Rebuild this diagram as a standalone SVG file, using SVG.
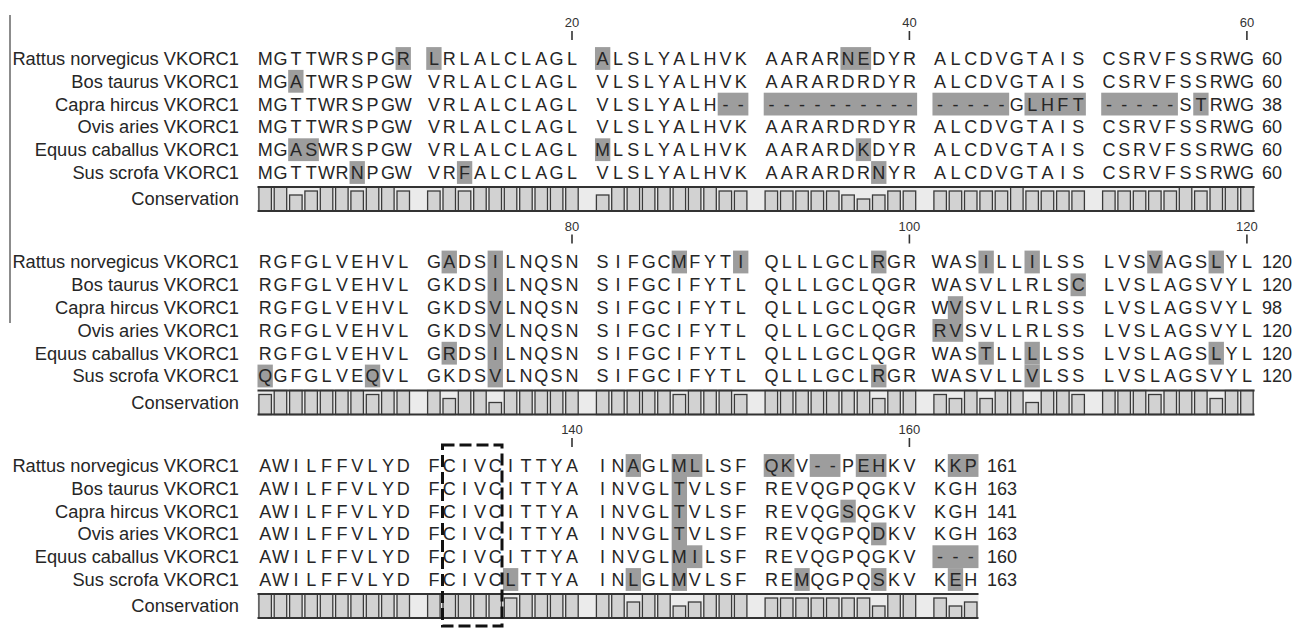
<svg xmlns="http://www.w3.org/2000/svg" width="1298" height="628" viewBox="0 0 1298 628">
<style>
text{font-family:"Liberation Sans",Arial,sans-serif;fill:#262626}
.lab{font-size:18.3px;text-anchor:end}
.seq{font-size:18px;text-anchor:middle}
.num{font-size:18px}
.pos{font-size:13px;text-anchor:middle;fill:#333}
.tick{stroke:#333;stroke-width:1.6}
.hl{fill:#9d9d9d}
.bar{fill:#d2d2d2;stroke:#3a3a3a;stroke-width:1.3}
.strip{fill:#ebebeb}
.sline{stroke:#333;stroke-width:2}
</style>
<defs>
<rect id="c6" class="bar" y="187" width="12.5" height="24"/>
<rect id="c5" class="bar" y="191" width="12.5" height="20"/>
<rect id="c4" class="bar" y="195" width="12.5" height="16"/>
<rect id="c3" class="bar" y="199" width="12.5" height="12"/>
</defs>
<rect width="1298" height="628" fill="#fff"/>
<line x1="10" y1="15" x2="10" y2="323" stroke="#666" stroke-width="1.5"/>

<g id="block1">
<g id="ticks1">
<text class="pos" x="572" y="27">20</text><line class="tick" x1="572" y1="31" x2="572" y2="40"/>
<text class="pos" x="909.4" y="27">40</text><line class="tick" x1="909.4" y1="31" x2="909.4" y2="40"/>
<text class="pos" x="1246.9" y="27">60</text><line class="tick" x1="1246.9" y1="31" x2="1246.9" y2="40"/>
</g>
<g id="labels1">
<text class="lab" x="239" y="64.9">Rattus norvegicus VKORC1</text>
<text class="lab" x="239" y="87.7">Bos taurus VKORC1</text>
<text class="lab" x="239" y="110.5">Capra hircus VKORC1</text>
<text class="lab" x="239" y="133.3">Ovis aries VKORC1</text>
<text class="lab" x="239" y="156.1">Equus caballus VKORC1</text>
<text class="lab" x="239" y="178.9">Sus scrofa VKORC1</text>
<text class="lab" x="239" y="205.4">Conservation</text>
</g>
<g id="hl1">
<rect class="hl" x="395.56" y="47.1" width="15.34" height="22.8"/>
<rect class="hl" x="426.24" y="47.1" width="15.34" height="22.8"/>
<rect class="hl" x="594.98" y="47.1" width="15.34" height="22.8"/>
<rect class="hl" x="840.42" y="47.1" width="30.68" height="22.8"/>
<rect class="hl" x="288.18" y="69.9" width="15.34" height="22.8"/>
<rect class="hl" x="717.7" y="92.7" width="30.68" height="22.8"/>
<rect class="hl" x="763.72" y="92.7" width="153.4" height="22.8"/>
<rect class="hl" x="932.46" y="92.7" width="76.7" height="22.8"/>
<rect class="hl" x="1024.5" y="92.7" width="61.36" height="22.8"/>
<rect class="hl" x="1101.2" y="92.7" width="76.7" height="22.8"/>
<rect class="hl" x="1193.24" y="92.7" width="15.34" height="22.8"/>
<rect class="hl" x="288.18" y="138.3" width="30.68" height="22.8"/>
<rect class="hl" x="594.98" y="138.3" width="15.34" height="22.8"/>
<rect class="hl" x="855.76" y="138.3" width="15.34" height="22.8"/>
<rect class="hl" x="349.54" y="161.1" width="15.34" height="22.8"/>
<rect class="hl" x="456.92" y="161.1" width="15.34" height="22.8"/>
<rect class="hl" x="871.1" y="161.1" width="15.34" height="22.8"/>
</g>
<g id="seq1">
<text class="seq" y="64.9" x="265.2 280.5 295.9 311.2 326.5 341.9 357.2 372.5 387.9 403.2 418.6 433.9 449.2 464.6 479.9 495.3 510.6 525.9 541.3 556.6 572.0 587.3 602.6 618.0 633.3 648.7 664.0 679.3 694.7 710.0 725.4 740.7 756.0 771.4 786.7 802.1 817.4 832.7 848.1 863.4 878.8 894.1 909.4 924.8 940.1 955.5 970.8 986.1 1001.5 1016.8 1032.2 1047.5 1062.8 1078.2 1093.5 1108.9 1124.2 1139.5 1154.9 1170.2 1185.6 1200.9 1216.2 1231.6 1246.9">MGTTWRSPGR LRLALCLAGL ALSLYALHVK AARARNEDYR ALCDVGTAIS CSRVFSSRWG</text>
<text class="seq" y="87.7" x="265.2 280.5 295.9 311.2 326.5 341.9 357.2 372.5 387.9 403.2 418.6 433.9 449.2 464.6 479.9 495.3 510.6 525.9 541.3 556.6 572.0 587.3 602.6 618.0 633.3 648.7 664.0 679.3 694.7 710.0 725.4 740.7 756.0 771.4 786.7 802.1 817.4 832.7 848.1 863.4 878.8 894.1 909.4 924.8 940.1 955.5 970.8 986.1 1001.5 1016.8 1032.2 1047.5 1062.8 1078.2 1093.5 1108.9 1124.2 1139.5 1154.9 1170.2 1185.6 1200.9 1216.2 1231.6 1246.9">MGATWRSPGW VRLALCLAGL VLSLYALHVK AARARDRDYR ALCDVGTAIS CSRVFSSRWG</text>
<text class="seq" y="110.5" x="265.2 280.5 295.9 311.2 326.5 341.9 357.2 372.5 387.9 403.2 418.6 433.9 449.2 464.6 479.9 495.3 510.6 525.9 541.3 556.6 572.0 587.3 602.6 618.0 633.3 648.7 664.0 679.3 694.7 710.0 725.4 740.7 756.0 771.4 786.7 802.1 817.4 832.7 848.1 863.4 878.8 894.1 909.4 924.8 940.1 955.5 970.8 986.1 1001.5 1016.8 1032.2 1047.5 1062.8 1078.2 1093.5 1108.9 1124.2 1139.5 1154.9 1170.2 1185.6 1200.9 1216.2 1231.6 1246.9">MGTTWRSPGW VRLALCLAGL VLSLYALH-- ---------- -----GLHFT -----STRWG</text>
<text class="seq" y="133.3" x="265.2 280.5 295.9 311.2 326.5 341.9 357.2 372.5 387.9 403.2 418.6 433.9 449.2 464.6 479.9 495.3 510.6 525.9 541.3 556.6 572.0 587.3 602.6 618.0 633.3 648.7 664.0 679.3 694.7 710.0 725.4 740.7 756.0 771.4 786.7 802.1 817.4 832.7 848.1 863.4 878.8 894.1 909.4 924.8 940.1 955.5 970.8 986.1 1001.5 1016.8 1032.2 1047.5 1062.8 1078.2 1093.5 1108.9 1124.2 1139.5 1154.9 1170.2 1185.6 1200.9 1216.2 1231.6 1246.9">MGTTWRSPGW VRLALCLAGL VLSLYALHVK AARARDRDYR ALCDVGTAIS CSRVFSSRWG</text>
<text class="seq" y="156.1" x="265.2 280.5 295.9 311.2 326.5 341.9 357.2 372.5 387.9 403.2 418.6 433.9 449.2 464.6 479.9 495.3 510.6 525.9 541.3 556.6 572.0 587.3 602.6 618.0 633.3 648.7 664.0 679.3 694.7 710.0 725.4 740.7 756.0 771.4 786.7 802.1 817.4 832.7 848.1 863.4 878.8 894.1 909.4 924.8 940.1 955.5 970.8 986.1 1001.5 1016.8 1032.2 1047.5 1062.8 1078.2 1093.5 1108.9 1124.2 1139.5 1154.9 1170.2 1185.6 1200.9 1216.2 1231.6 1246.9">MGASWRSPGW VRLALCLAGL MLSLYALHVK AARARDKDYR ALCDVGTAIS CSRVFSSRWG</text>
<text class="seq" y="178.9" x="265.2 280.5 295.9 311.2 326.5 341.9 357.2 372.5 387.9 403.2 418.6 433.9 449.2 464.6 479.9 495.3 510.6 525.9 541.3 556.6 572.0 587.3 602.6 618.0 633.3 648.7 664.0 679.3 694.7 710.0 725.4 740.7 756.0 771.4 786.7 802.1 817.4 832.7 848.1 863.4 878.8 894.1 909.4 924.8 940.1 955.5 970.8 986.1 1001.5 1016.8 1032.2 1047.5 1062.8 1078.2 1093.5 1108.9 1124.2 1139.5 1154.9 1170.2 1185.6 1200.9 1216.2 1231.6 1246.9">MGTTWRNPGW VRFALCLAGL VLSLYALHVK AARARDRNYR ALCDVGTAIS CSRVFSSRWG</text>
</g>
<g id="nums1">
<text class="num" x="1262" y="64.9">60</text>
<text class="num" x="1262" y="87.7">60</text>
<text class="num" x="1262" y="110.5">38</text>
<text class="num" x="1262" y="133.3">60</text>
<text class="num" x="1262" y="156.1">60</text>
<text class="num" x="1262" y="178.9">60</text>
</g>
<g id="cons1">
<rect class="strip" x="257.5" y="187" width="997.1" height="24"/>
<use href="#c6" x="258.9"/><use href="#c6" x="274.2"/><use href="#c4" x="289.6"/><use href="#c5" x="304.9"/><use href="#c6" x="320.3"/><use href="#c6" x="335.6"/><use href="#c5" x="350.9"/><use href="#c6" x="366.3"/><use href="#c6" x="381.6"/><use href="#c5" x="397.0"/>
<use href="#c5" x="427.6"/><use href="#c6" x="443.0"/><use href="#c5" x="458.3"/><use href="#c6" x="473.7"/><use href="#c6" x="489.0"/><use href="#c6" x="504.3"/><use href="#c6" x="519.7"/><use href="#c6" x="535.0"/><use href="#c6" x="550.4"/><use href="#c6" x="565.7"/>
<use href="#c4" x="596.4"/><use href="#c6" x="611.7"/><use href="#c6" x="627.1"/><use href="#c6" x="642.4"/><use href="#c6" x="657.7"/><use href="#c6" x="673.1"/><use href="#c6" x="688.4"/><use href="#c6" x="703.8"/><use href="#c5" x="719.1"/><use href="#c5" x="734.4"/>
<use href="#c5" x="765.1"/><use href="#c5" x="780.5"/><use href="#c5" x="795.8"/><use href="#c5" x="811.1"/><use href="#c5" x="826.5"/><use href="#c4" x="841.8"/><use href="#c3" x="857.2"/><use href="#c4" x="872.5"/><use href="#c5" x="887.8"/><use href="#c5" x="903.2"/>
<use href="#c5" x="933.9"/><use href="#c5" x="949.2"/><use href="#c5" x="964.5"/><use href="#c5" x="979.9"/><use href="#c5" x="995.2"/><use href="#c6" x="1010.6"/><use href="#c5" x="1025.9"/><use href="#c5" x="1041.2"/><use href="#c5" x="1056.6"/><use href="#c5" x="1071.9"/>
<use href="#c5" x="1102.6"/><use href="#c5" x="1117.9"/><use href="#c5" x="1133.3"/><use href="#c5" x="1148.6"/><use href="#c5" x="1164.0"/><use href="#c6" x="1179.3"/><use href="#c5" x="1194.6"/><use href="#c6" x="1210.0"/><use href="#c6" x="1225.3"/><use href="#c6" x="1240.7"/>
<line class="sline" x1="257.5" y1="187" x2="1254.6" y2="187"/>
<line class="sline" x1="257.5" y1="211" x2="1254.6" y2="211"/>
</g>
</g>

<g id="block2" transform="translate(0,203.5)">
<g id="ticks2">
<text class="pos" x="572" y="27">80</text><line class="tick" x1="572" y1="31" x2="572" y2="40"/>
<text class="pos" x="909.4" y="27">100</text><line class="tick" x1="909.4" y1="31" x2="909.4" y2="40"/>
<text class="pos" x="1246.9" y="27">120</text><line class="tick" x1="1246.9" y1="31" x2="1246.9" y2="40"/>
</g>
<g id="labels2">
<text class="lab" x="239" y="64.9">Rattus norvegicus VKORC1</text>
<text class="lab" x="239" y="87.7">Bos taurus VKORC1</text>
<text class="lab" x="239" y="110.5">Capra hircus VKORC1</text>
<text class="lab" x="239" y="133.3">Ovis aries VKORC1</text>
<text class="lab" x="239" y="156.1">Equus caballus VKORC1</text>
<text class="lab" x="239" y="178.9">Sus scrofa VKORC1</text>
<text class="lab" x="239" y="205.4">Conservation</text>
</g>
<g id="hl2">
<rect class="hl" x="487.6" y="47.1" width="15.34" height="136.8"/>
<rect class="hl" x="441.58" y="47.1" width="15.34" height="22.8"/>
<rect class="hl" x="671.68" y="47.1" width="15.34" height="22.8"/>
<rect class="hl" x="733.04" y="47.1" width="15.34" height="22.8"/>
<rect class="hl" x="871.1" y="47.1" width="15.34" height="22.8"/>
<rect class="hl" x="978.48" y="47.1" width="15.34" height="22.8"/>
<rect class="hl" x="1024.5" y="47.1" width="15.34" height="22.8"/>
<rect class="hl" x="1147.22" y="47.1" width="15.34" height="22.8"/>
<rect class="hl" x="1208.58" y="47.1" width="15.34" height="22.8"/>
<rect class="hl" x="1070.52" y="69.9" width="15.34" height="22.8"/>
<rect class="hl" x="947.8" y="92.7" width="15.34" height="22.8"/>
<rect class="hl" x="932.46" y="115.5" width="30.68" height="22.8"/>
<rect class="hl" x="441.58" y="138.3" width="15.34" height="22.8"/>
<rect class="hl" x="978.48" y="138.3" width="15.34" height="22.8"/>
<rect class="hl" x="1024.5" y="138.3" width="15.34" height="22.8"/>
<rect class="hl" x="1208.58" y="138.3" width="15.34" height="22.8"/>
<rect class="hl" x="257.5" y="161.1" width="15.34" height="22.8"/>
<rect class="hl" x="364.88" y="161.1" width="15.34" height="22.8"/>
<rect class="hl" x="871.1" y="161.1" width="15.34" height="22.8"/>
<rect class="hl" x="1024.5" y="161.1" width="15.34" height="22.8"/>
</g>
<g id="seq2">
<text class="seq" y="64.9" x="265.2 280.5 295.9 311.2 326.5 341.9 357.2 372.5 387.9 403.2 418.6 433.9 449.2 464.6 479.9 495.3 510.6 525.9 541.3 556.6 572.0 587.3 602.6 618.0 633.3 648.7 664.0 679.3 694.7 710.0 725.4 740.7 756.0 771.4 786.7 802.1 817.4 832.7 848.1 863.4 878.8 894.1 909.4 924.8 940.1 955.5 970.8 986.1 1001.5 1016.8 1032.2 1047.5 1062.8 1078.2 1093.5 1108.9 1124.2 1139.5 1154.9 1170.2 1185.6 1200.9 1216.2 1231.6 1246.9">RGFGLVEHVL GADSILNQSN SIFGCMFYTI QLLLGCLRGR WASILLILSS LVSVAGSLYL</text>
<text class="seq" y="87.7" x="265.2 280.5 295.9 311.2 326.5 341.9 357.2 372.5 387.9 403.2 418.6 433.9 449.2 464.6 479.9 495.3 510.6 525.9 541.3 556.6 572.0 587.3 602.6 618.0 633.3 648.7 664.0 679.3 694.7 710.0 725.4 740.7 756.0 771.4 786.7 802.1 817.4 832.7 848.1 863.4 878.8 894.1 909.4 924.8 940.1 955.5 970.8 986.1 1001.5 1016.8 1032.2 1047.5 1062.8 1078.2 1093.5 1108.9 1124.2 1139.5 1154.9 1170.2 1185.6 1200.9 1216.2 1231.6 1246.9">RGFGLVEHVL GKDSILNQSN SIFGCIFYTL QLLLGCLQGR WASVLLRLSC LVSLAGSVYL</text>
<text class="seq" y="110.5" x="265.2 280.5 295.9 311.2 326.5 341.9 357.2 372.5 387.9 403.2 418.6 433.9 449.2 464.6 479.9 495.3 510.6 525.9 541.3 556.6 572.0 587.3 602.6 618.0 633.3 648.7 664.0 679.3 694.7 710.0 725.4 740.7 756.0 771.4 786.7 802.1 817.4 832.7 848.1 863.4 878.8 894.1 909.4 924.8 940.1 955.5 970.8 986.1 1001.5 1016.8 1032.2 1047.5 1062.8 1078.2 1093.5 1108.9 1124.2 1139.5 1154.9 1170.2 1185.6 1200.9 1216.2 1231.6 1246.9">RGFGLVEHVL GKDSVLNQSN SIFGCIFYTL QLLLGCLQGR WVSVLLRLSS LVSLAGSVYL</text>
<text class="seq" y="133.3" x="265.2 280.5 295.9 311.2 326.5 341.9 357.2 372.5 387.9 403.2 418.6 433.9 449.2 464.6 479.9 495.3 510.6 525.9 541.3 556.6 572.0 587.3 602.6 618.0 633.3 648.7 664.0 679.3 694.7 710.0 725.4 740.7 756.0 771.4 786.7 802.1 817.4 832.7 848.1 863.4 878.8 894.1 909.4 924.8 940.1 955.5 970.8 986.1 1001.5 1016.8 1032.2 1047.5 1062.8 1078.2 1093.5 1108.9 1124.2 1139.5 1154.9 1170.2 1185.6 1200.9 1216.2 1231.6 1246.9">RGFGLVEHVL GKDSVLNQSN SIFGCIFYTL QLLLGCLQGR RVSVLLRLSS LVSLAGSVYL</text>
<text class="seq" y="156.1" x="265.2 280.5 295.9 311.2 326.5 341.9 357.2 372.5 387.9 403.2 418.6 433.9 449.2 464.6 479.9 495.3 510.6 525.9 541.3 556.6 572.0 587.3 602.6 618.0 633.3 648.7 664.0 679.3 694.7 710.0 725.4 740.7 756.0 771.4 786.7 802.1 817.4 832.7 848.1 863.4 878.8 894.1 909.4 924.8 940.1 955.5 970.8 986.1 1001.5 1016.8 1032.2 1047.5 1062.8 1078.2 1093.5 1108.9 1124.2 1139.5 1154.9 1170.2 1185.6 1200.9 1216.2 1231.6 1246.9">RGFGLVEHVL GRDSILNQSN SIFGCIFYTL QLLLGCLQGR WASTLLLLSS LVSLAGSLYL</text>
<text class="seq" y="178.9" x="265.2 280.5 295.9 311.2 326.5 341.9 357.2 372.5 387.9 403.2 418.6 433.9 449.2 464.6 479.9 495.3 510.6 525.9 541.3 556.6 572.0 587.3 602.6 618.0 633.3 648.7 664.0 679.3 694.7 710.0 725.4 740.7 756.0 771.4 786.7 802.1 817.4 832.7 848.1 863.4 878.8 894.1 909.4 924.8 940.1 955.5 970.8 986.1 1001.5 1016.8 1032.2 1047.5 1062.8 1078.2 1093.5 1108.9 1124.2 1139.5 1154.9 1170.2 1185.6 1200.9 1216.2 1231.6 1246.9">QGFGLVEQVL GKDSVLNQSN SIFGCIFYTL QLLLGCLRGR WASVLLVLSS LVSLAGSVYL</text>
</g>
<g id="nums2">
<text class="num" x="1262" y="64.9">120</text>
<text class="num" x="1262" y="87.7">120</text>
<text class="num" x="1262" y="110.5">98</text>
<text class="num" x="1262" y="133.3">120</text>
<text class="num" x="1262" y="156.1">120</text>
<text class="num" x="1262" y="178.9">120</text>
</g>
<g id="cons2">
<rect class="strip" x="257.5" y="187" width="997.1" height="24"/>
<use href="#c5" x="258.9"/><use href="#c6" x="274.2"/><use href="#c6" x="289.6"/><use href="#c6" x="304.9"/><use href="#c6" x="320.3"/><use href="#c6" x="335.6"/><use href="#c6" x="350.9"/><use href="#c5" x="366.3"/><use href="#c6" x="381.6"/><use href="#c6" x="397.0"/>
<use href="#c6" x="427.6"/><use href="#c4" x="443.0"/><use href="#c6" x="458.3"/><use href="#c6" x="473.7"/><use href="#c3" x="489.0"/><use href="#c6" x="504.3"/><use href="#c6" x="519.7"/><use href="#c6" x="535.0"/><use href="#c6" x="550.4"/><use href="#c6" x="565.7"/>
<use href="#c6" x="596.4"/><use href="#c6" x="611.7"/><use href="#c6" x="627.1"/><use href="#c6" x="642.4"/><use href="#c6" x="657.7"/><use href="#c5" x="673.1"/><use href="#c6" x="688.4"/><use href="#c6" x="703.8"/><use href="#c6" x="719.1"/><use href="#c5" x="734.4"/>
<use href="#c6" x="765.1"/><use href="#c6" x="780.5"/><use href="#c6" x="795.8"/><use href="#c6" x="811.1"/><use href="#c6" x="826.5"/><use href="#c6" x="841.8"/><use href="#c6" x="857.2"/><use href="#c4" x="872.5"/><use href="#c6" x="887.8"/><use href="#c6" x="903.2"/>
<use href="#c5" x="933.9"/><use href="#c4" x="949.2"/><use href="#c6" x="964.5"/><use href="#c4" x="979.9"/><use href="#c6" x="995.2"/><use href="#c6" x="1010.6"/><use href="#c3" x="1025.9"/><use href="#c6" x="1041.2"/><use href="#c6" x="1056.6"/><use href="#c5" x="1071.9"/>
<use href="#c6" x="1102.6"/><use href="#c6" x="1117.9"/><use href="#c6" x="1133.3"/><use href="#c5" x="1148.6"/><use href="#c6" x="1164.0"/><use href="#c6" x="1179.3"/><use href="#c6" x="1194.6"/><use href="#c4" x="1210.0"/><use href="#c6" x="1225.3"/><use href="#c6" x="1240.7"/>
<line class="sline" x1="257.5" y1="187" x2="1254.6" y2="187"/>
<line class="sline" x1="257.5" y1="211" x2="1254.6" y2="211"/>
</g>
</g>

<g id="block3" transform="translate(0,407)">
<g id="ticks3">
<text class="pos" x="572" y="27">140</text><line class="tick" x1="572" y1="31" x2="572" y2="40"/>
<text class="pos" x="909.4" y="27">160</text><line class="tick" x1="909.4" y1="31" x2="909.4" y2="40"/>
</g>
<g id="labels3">
<text class="lab" x="239" y="64.9">Rattus norvegicus VKORC1</text>
<text class="lab" x="239" y="87.7">Bos taurus VKORC1</text>
<text class="lab" x="239" y="110.5">Capra hircus VKORC1</text>
<text class="lab" x="239" y="133.3">Ovis aries VKORC1</text>
<text class="lab" x="239" y="156.1">Equus caballus VKORC1</text>
<text class="lab" x="239" y="178.9">Sus scrofa VKORC1</text>
<text class="lab" x="239" y="205.4">Conservation</text>
</g>
<g id="hl3">
<rect class="hl" x="671.68" y="47.1" width="15.34" height="136.8"/>
<rect class="hl" x="625.66" y="47.1" width="15.34" height="22.8"/>
<rect class="hl" x="687.02" y="47.1" width="15.34" height="22.8"/>
<rect class="hl" x="763.72" y="47.1" width="30.68" height="22.8"/>
<rect class="hl" x="809.74" y="47.1" width="30.68" height="22.8"/>
<rect class="hl" x="855.76" y="47.1" width="30.68" height="22.8"/>
<rect class="hl" x="947.8" y="47.1" width="30.68" height="22.8"/>
<rect class="hl" x="840.42" y="92.7" width="15.34" height="22.8"/>
<rect class="hl" x="871.1" y="115.5" width="15.34" height="22.8"/>
<rect class="hl" x="687.02" y="138.3" width="15.34" height="22.8"/>
<rect class="hl" x="932.46" y="138.3" width="46.02" height="22.8"/>
<rect class="hl" x="502.94" y="161.1" width="15.34" height="22.8"/>
<rect class="hl" x="625.66" y="161.1" width="15.34" height="22.8"/>
<rect class="hl" x="794.4" y="161.1" width="15.34" height="22.8"/>
<rect class="hl" x="871.1" y="161.1" width="15.34" height="22.8"/>
<rect class="hl" x="947.8" y="161.1" width="15.34" height="22.8"/>
</g>
<g id="seq3">
<text class="seq" y="64.9" x="265.2 280.5 295.9 311.2 326.5 341.9 357.2 372.5 387.9 403.2 418.6 433.9 449.2 464.6 479.9 495.3 510.6 525.9 541.3 556.6 572.0 587.3 602.6 618.0 633.3 648.7 664.0 679.3 694.7 710.0 725.4 740.7 756.0 771.4 786.7 802.1 817.4 832.7 848.1 863.4 878.8 894.1 909.4 924.8 940.1 955.5 970.8">AWILFFVLYD FCIVCITTYA INAGLMLLSF QKV--PEHKV KKP</text>
<text class="seq" y="87.7" x="265.2 280.5 295.9 311.2 326.5 341.9 357.2 372.5 387.9 403.2 418.6 433.9 449.2 464.6 479.9 495.3 510.6 525.9 541.3 556.6 572.0 587.3 602.6 618.0 633.3 648.7 664.0 679.3 694.7 710.0 725.4 740.7 756.0 771.4 786.7 802.1 817.4 832.7 848.1 863.4 878.8 894.1 909.4 924.8 940.1 955.5 970.8">AWILFFVLYD FCIVCITTYA INVGLTVLSF REVQGPQGKV KGH</text>
<text class="seq" y="110.5" x="265.2 280.5 295.9 311.2 326.5 341.9 357.2 372.5 387.9 403.2 418.6 433.9 449.2 464.6 479.9 495.3 510.6 525.9 541.3 556.6 572.0 587.3 602.6 618.0 633.3 648.7 664.0 679.3 694.7 710.0 725.4 740.7 756.0 771.4 786.7 802.1 817.4 832.7 848.1 863.4 878.8 894.1 909.4 924.8 940.1 955.5 970.8">AWILFFVLYD FCIVCITTYA INVGLTVLSF REVQGSQGKV KGH</text>
<text class="seq" y="133.3" x="265.2 280.5 295.9 311.2 326.5 341.9 357.2 372.5 387.9 403.2 418.6 433.9 449.2 464.6 479.9 495.3 510.6 525.9 541.3 556.6 572.0 587.3 602.6 618.0 633.3 648.7 664.0 679.3 694.7 710.0 725.4 740.7 756.0 771.4 786.7 802.1 817.4 832.7 848.1 863.4 878.8 894.1 909.4 924.8 940.1 955.5 970.8">AWILFFVLYD FCIVCITTYA INVGLTVLSF REVQGPQDKV KGH</text>
<text class="seq" y="156.1" x="265.2 280.5 295.9 311.2 326.5 341.9 357.2 372.5 387.9 403.2 418.6 433.9 449.2 464.6 479.9 495.3 510.6 525.9 541.3 556.6 572.0 587.3 602.6 618.0 633.3 648.7 664.0 679.3 694.7 710.0 725.4 740.7 756.0 771.4 786.7 802.1 817.4 832.7 848.1 863.4 878.8 894.1 909.4 924.8 940.1 955.5 970.8">AWILFFVLYD FCIVCITTYA INVGLMILSF REVQGPQGKV ---</text>
<text class="seq" y="178.9" x="265.2 280.5 295.9 311.2 326.5 341.9 357.2 372.5 387.9 403.2 418.6 433.9 449.2 464.6 479.9 495.3 510.6 525.9 541.3 556.6 572.0 587.3 602.6 618.0 633.3 648.7 664.0 679.3 694.7 710.0 725.4 740.7 756.0 771.4 786.7 802.1 817.4 832.7 848.1 863.4 878.8 894.1 909.4 924.8 940.1 955.5 970.8">AWILFFVLYD FCIVCLTTYA INLGLMVLSF REMQGPQSKV KEH</text>
</g>
<g id="nums3">
<text class="num" x="987" y="64.9">161</text>
<text class="num" x="987" y="87.7">163</text>
<text class="num" x="987" y="110.5">141</text>
<text class="num" x="987" y="133.3">163</text>
<text class="num" x="987" y="156.1">160</text>
<text class="num" x="987" y="178.9">163</text>
</g>
<g id="cons3">
<rect class="strip" x="257.5" y="187" width="721" height="24"/>
<use href="#c6" x="258.9"/><use href="#c6" x="274.2"/><use href="#c6" x="289.6"/><use href="#c6" x="304.9"/><use href="#c6" x="320.3"/><use href="#c6" x="335.6"/><use href="#c6" x="350.9"/><use href="#c6" x="366.3"/><use href="#c6" x="381.6"/><use href="#c6" x="397.0"/>
<use href="#c6" x="427.6"/><use href="#c6" x="443.0"/><use href="#c6" x="458.3"/><use href="#c6" x="473.7"/><use href="#c6" x="489.0"/><use href="#c5" x="504.3"/><use href="#c6" x="519.7"/><use href="#c6" x="535.0"/><use href="#c6" x="550.4"/><use href="#c6" x="565.7"/>
<use href="#c6" x="596.4"/><use href="#c6" x="611.7"/><use href="#c4" x="627.1"/><use href="#c6" x="642.4"/><use href="#c6" x="657.7"/><use href="#c3" x="673.1"/><use href="#c4" x="688.4"/><use href="#c6" x="703.8"/><use href="#c6" x="719.1"/><use href="#c6" x="734.4"/>
<use href="#c5" x="765.1"/><use href="#c5" x="780.5"/><use href="#c5" x="795.8"/><use href="#c5" x="811.1"/><use href="#c5" x="826.5"/><use href="#c5" x="841.8"/><use href="#c5" x="857.2"/><use href="#c3" x="872.5"/><use href="#c6" x="887.8"/><use href="#c6" x="903.2"/>
<use href="#c5" x="933.9"/><use href="#c3" x="949.2"/><use href="#c4" x="964.5"/>
<line class="sline" x1="257.5" y1="187" x2="978.5" y2="187"/>
<line class="sline" x1="257.5" y1="211" x2="978.5" y2="211"/>
</g>
</g>

<rect id="motif-box" x="442.5" y="445" width="59.5" height="181" fill="none" stroke="#111" stroke-width="3" stroke-dasharray="12 5"/>
</svg>
